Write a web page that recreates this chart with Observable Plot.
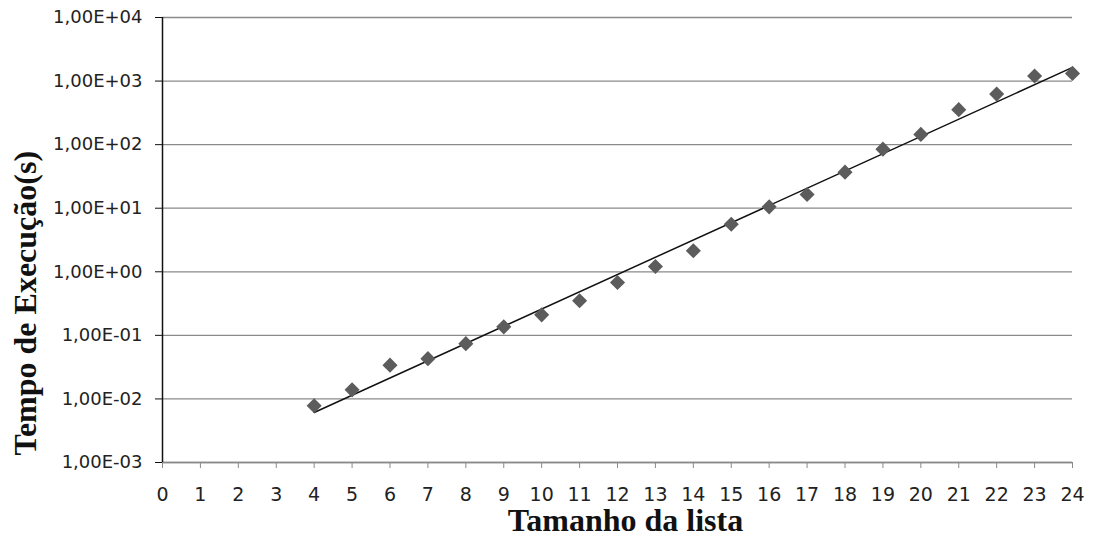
<!DOCTYPE html>
<html><head><meta charset="utf-8">
<script src="https://cdn.jsdelivr.net/npm/d3@7"></script>
<script src="https://cdn.jsdelivr.net/npm/@observablehq/plot@0.6"></script>
<style>html,body{margin:0;padding:0;background:#fff} svg{display:block}</style>
</head><body><div id="chart"></div>
<script>
const sizes = [4, 5, 6, 7, 8, 9, 10, 11, 12, 13, 14, 15, 16, 17, 18, 19, 20, 21, 22, 23, 24];
const times = [0.0078, 0.0139, 0.034, 0.043, 0.074, 0.136, 0.21, 0.35, 0.68, 1.21, 2.14, 5.6, 10.5, 16.4, 36.9, 85, 145, 355, 624, 1200, 1320];
const xTicks = [0, 1, 2, 3, 4, 5, 6, 7, 8, 9, 10, 11, 12, 13, 14, 15, 16, 17, 18, 19, 20, 21, 22, 23, 24];
const yTicks = [1e-3, 1e-2, 1e-1, 1e0, 1e1, 1e2, 1e3, 1e4];
const yTickLabels = ["1,00E-03", "1,00E-02", "1,00E-01", "1,00E+00", "1,00E+01", "1,00E+02", "1,00E+03", "1,00E+04"];
const xTitle = "Tamanho da lista";
const yTitle = "Tempo de Execução(s)";

const data = sizes.map((s, i) => ({x: s, y: times[i]}));

// exponential trend line (least squares on log10 values)
const lx = sizes, ly = times.map(Math.log10);
const mx = d3.mean(lx), my = d3.mean(ly);
const slope = d3.sum(lx, (x, i) => (x - mx) * (ly[i] - my)) / d3.sum(lx, x => (x - mx) ** 2);
const icpt = my - slope * mx;
const [x0, x1] = d3.extent(sizes);
const trend = [x0, x1].map(x => ({x, y: Math.pow(10, icpt + slope * x)}));

const font = "DejaVu Sans, Verdana, sans-serif";
const serif = "Liberation Serif, Times New Roman, serif";
const yLabel = d => {
  const k = yTicks.findIndex(t => Math.abs(Math.log10(t) - Math.log10(d)) < 1e-6);
  return k >= 0 ? yTickLabels[k] : "";
};

const chart = Plot.plot({
  width: 1094,
  height: 538,
  marginLeft: 162,
  marginRight: 22,
  marginTop: 17,
  marginBottom: 76,
  style: {fontFamily: font, fontSize: "18px", background: "#fff", color: "#222"},
  x: {domain: [0, 24]},
  y: {type: "log", domain: [1e-3, 1e4]},
  marks: [
    Plot.gridY(yTicks, {stroke: "#8a8a8a", strokeOpacity: 1, strokeWidth: 1.3}),
    Plot.ruleY([1e-3], {stroke: "#8a8a8a", strokeWidth: 1.5}),
    Plot.axisX({ticks: xTicks, tickSize: 6, tickPadding: 19, fontSize: 19, stroke: "#8a8a8a", fill: "#222", label: null, tickFormat: d => String(d)}),
    Plot.axisY({ticks: yTicks, tickSize: 7, tickPadding: 13, fontSize: 18, stroke: "#111", fill: "#222", label: null, tickFormat: yLabel}),
    Plot.ruleX([0], {stroke: "#111", strokeWidth: 1.5}),
    Plot.line(trend, {x: "x", y: "y", stroke: "#111", strokeWidth: 1.5}),
    Plot.dot(data, {x: "x", y: "y", symbol: "diamond2", r: 6.8, fill: "#5c5c5c", stroke: "none"}),
    Plot.text([xTitle], {frameAnchor: "bottom", lineAnchor: "middle", dx: 8, dy: 58, fontFamily: serif, fontWeight: "bold", fontSize: 32, fill: "#111"}),
    Plot.text([yTitle], {frameAnchor: "bottom-left", textAnchor: "start", lineAnchor: "middle", rotate: -90, dx: -137, dy: -7, fontFamily: serif, fontWeight: "bold", fontSize: 32, fill: "#111"})
  ]
});
document.getElementById("chart").appendChild(chart);
</script>
</body></html>
